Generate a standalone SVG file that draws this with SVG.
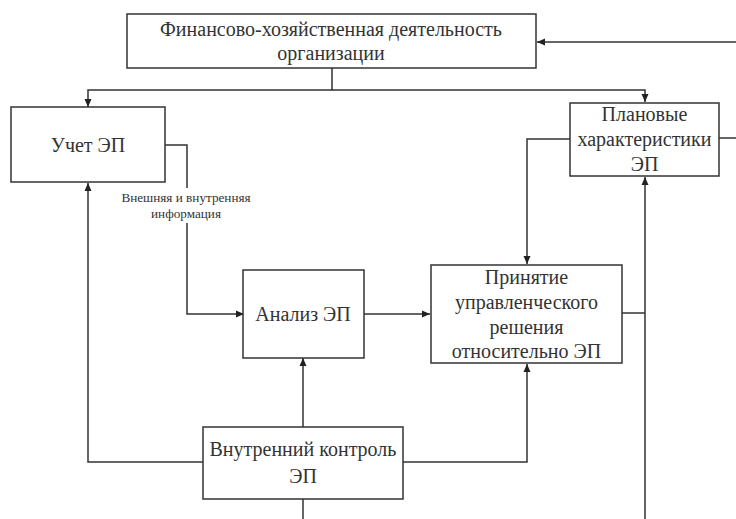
<svg xmlns="http://www.w3.org/2000/svg" width="736" height="519" viewBox="0 0 736 519">
<style>
.box{fill:#fff;stroke:#333;stroke-width:1.5}
.t{font-family:"Liberation Serif","Times New Roman",serif;font-size:20px;fill:#333;text-anchor:middle}
.s{font-family:"Liberation Serif","Times New Roman",serif;font-size:13.2px;fill:#333;text-anchor:middle}
.c{fill:none;stroke:#333;stroke-width:1.5}
</style>
<defs>
<marker id="ah" markerUnits="userSpaceOnUse" markerWidth="10" markerHeight="10" refX="9" refY="5" orient="auto">
<path d="M1,1.5 L9,5 L1,8.5 Z" fill="#222"/>
</marker>
</defs>
<rect width="736" height="519" fill="#fff"/>
<g id="connectors">
<path class="c" d="M736,42 H537" marker-end="url(#ah)"/>
<path class="c" d="M332,68 V90 H88 V107" marker-end="url(#ah)"/>
<path class="c" d="M332,90 H645 V102" marker-end="url(#ah)"/>
<path class="c" d="M165,145 H187 V188"/>
<path class="c" d="M187,223 V314 H244" marker-end="url(#ah)"/>
<path class="c" d="M364,314 H430" marker-end="url(#ah)"/>
<path class="c" d="M570,139 H527 V264" marker-end="url(#ah)"/>
<path class="c" d="M719,138 H736"/>
<path class="c" d="M622,313 H645"/>
<path class="c" d="M645,519 V177" marker-end="url(#ah)"/>
<path class="c" d="M203,462 H88 V183" marker-end="url(#ah)"/>
<path class="c" d="M403,462 H527 V364" marker-end="url(#ah)"/>
<path class="c" d="M303,427 V358" marker-end="url(#ah)"/>
<path class="c" d="M303,499 V519"/>
<text class="s" x="186" y="202">Внешняя и внутренняя</text>
<text class="s" x="186" y="218">информация</text>
</g>
<g id="finance">
<rect class="box" x="127" y="14" width="409" height="54"/>
<text class="t" x="331" y="36">Финансово-хозяйственная деятельность</text>
<text class="t" x="331" y="60">организации</text>
</g>
<g id="uchet">
<rect class="box" x="11" y="107" width="154" height="75"/>
<text class="t" x="88" y="152">Учет ЭП</text>
</g>
<g id="plan">
<rect class="box" x="570" y="103" width="149" height="73"/>
<text class="t" x="644.5" y="121">Плановые</text>
<text class="t" x="644.5" y="146">характеристики</text>
<text class="t" x="644.5" y="171">ЭП</text>
</g>
<g id="analiz">
<rect class="box" x="243" y="270" width="121" height="88"/>
<text class="t" x="303" y="321">Анализ ЭП</text>
</g>
<g id="decision">
<rect class="box" x="431" y="265" width="191" height="98"/>
<text class="t" x="526.5" y="284">Принятие</text>
<text class="t" x="526.5" y="309">управленческого</text>
<text class="t" x="526.5" y="334">решения</text>
<text class="t" x="526.5" y="358">относительно ЭП</text>
</g>
<g id="control">
<rect class="box" x="203" y="427" width="200" height="72"/>
<text class="t" x="303" y="456">Внутренний контроль</text>
<text class="t" x="303" y="483">ЭП</text>
</g>
</svg>
